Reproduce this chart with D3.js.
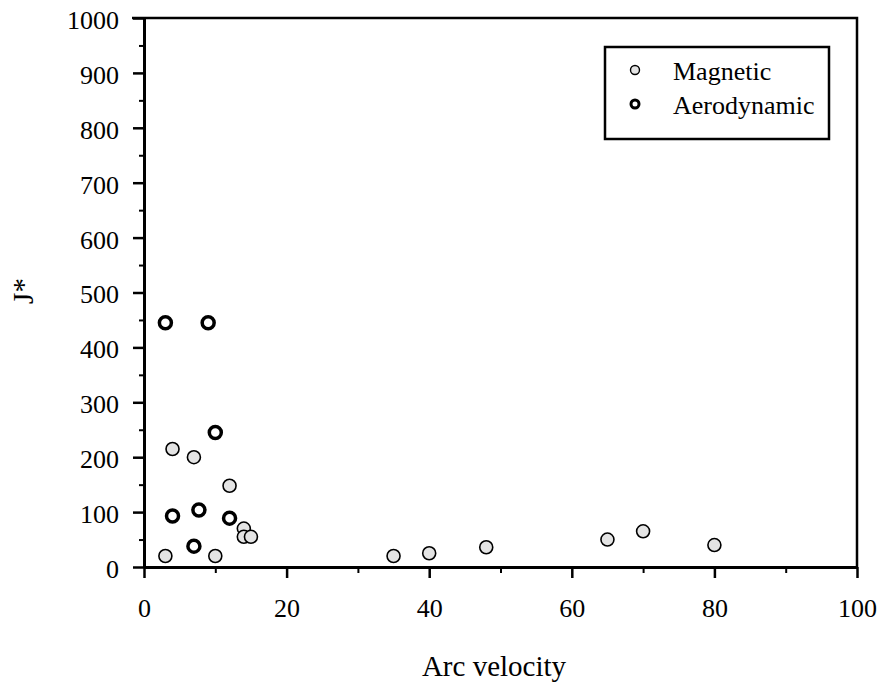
<!DOCTYPE html>
<html>
<head>
<meta charset="utf-8">
<script src="https://cdn.jsdelivr.net/npm/d3@7"></script>
<style>
  body { margin: 0; background: #fff; }
  text { font-family: "Liberation Serif", "Times New Roman", serif; fill: #000; }
</style>
</head>
<body>
<svg width="881" height="684"></svg>
<script>
// series values
const magX = [3, 4, 7, 12, 14, 14, 15, 10, 35, 40, 48, 65, 70, 80];
const magY = [20, 215, 200, 148, 70, 55, 55, 20, 20, 25, 36, 50, 65, 40];
const aeroX = [3, 9, 10, 4, 7.7, 12, 7];
const aeroY = [445, 445, 245, 93, 104, 89, 38];

const xTicks = [0, 20, 40, 60, 80, 100];
const yTicks = [0, 100, 200, 300, 400, 500, 600, 700, 800, 900, 1000];
const seriesNames = ["Magnetic", "Aerodynamic"];

const svg = d3.select("svg");
const mLeft = 144, mRight = 857, mTop = 18, mBottom = 567;

const x = d3.scaleLinear().domain([0, 100]).range([mLeft, mRight]);
const y = d3.scaleLinear().domain([0, 1000]).range([mBottom, mTop]);

// frame (top and right)
svg.append("path")
  .attr("d", `M${mLeft - 12},${mTop}H${mRight}V${mBottom}`)
  .attr("fill", "none").attr("stroke", "#000").attr("stroke-width", 2.5);

// minor ticks
const xAxisMinor = d3.axisBottom(x).tickValues(d3.range(10, 100, 20)).tickSize(6).tickFormat("");
svg.append("g").attr("transform", `translate(0,${mBottom})`).call(xAxisMinor)
  .call(g => g.select(".domain").remove())
  .selectAll("line").attr("stroke-width", 2);
const yAxisMinor = d3.axisLeft(y).tickValues(d3.range(50, 1000, 100)).tickSize(5).tickFormat("");
svg.append("g").attr("transform", `translate(${mLeft},0)`).call(yAxisMinor)
  .call(g => g.select(".domain").remove())
  .selectAll("line").attr("stroke-width", 2);

// x axis
const xAxis = svg.append("g").attr("transform", `translate(0,${mBottom})`)
  .call(d3.axisBottom(x).tickValues(xTicks).tickSize(11).tickSizeOuter(0)
    .tickPadding(21).tickFormat(d3.format("d")));
xAxis.select(".domain").attr("stroke-width", 3);
xAxis.selectAll("line").attr("stroke-width", 2.5);
xAxis.selectAll("text").attr("font-size", 26).attr("font-family", "Liberation Serif");

// y axis
const yAxis = svg.append("g").attr("transform", `translate(${mLeft},0)`)
  .call(d3.axisLeft(y).tickValues(yTicks).tickSize(11).tickSizeOuter(0)
    .tickPadding(14).tickFormat(d3.format("d")));
yAxis.select(".domain").attr("stroke-width", 3);
yAxis.selectAll("line").attr("stroke-width", 2.5);
yAxis.selectAll("text").attr("font-size", 26).attr("font-family", "Liberation Serif")
  .attr("dy", "0.4em");

// axis titles
svg.append("text").attr("x", 494).attr("y", 676)
  .attr("text-anchor", "middle").attr("font-size", 29).text("Arc velocity");
svg.append("text").attr("transform", `translate(33,291) rotate(-90)`)
  .attr("text-anchor", "middle").attr("font-size", 29).text("J*");

// points
const magData = magX.map((v, i) => [v, magY[i]]);
const aeroData = aeroX.map((v, i) => [v, aeroY[i]]);

svg.append("g").selectAll("circle").data(magData).join("circle")
  .attr("cx", d => x(d[0])).attr("cy", d => y(d[1])).attr("r", 6.5)
  .attr("fill", "#e4e4e4").attr("stroke", "#000").attr("stroke-width", 1.6);

svg.append("g").selectAll("circle").data(aeroData).join("circle")
  .attr("cx", d => x(d[0])).attr("cy", d => y(d[1])).attr("r", 6)
  .attr("fill", "#fff").attr("stroke", "#000").attr("stroke-width", 3.5);

// legend
const lg = svg.append("g");
lg.append("rect").attr("x", 605).attr("y", 47).attr("width", 224).attr("height", 92)
  .attr("fill", "#fff").attr("stroke", "#000").attr("stroke-width", 2.5);
seriesNames.forEach((name, i) => {
  const cy = 70 + i * 34;
  if (i === 0) {
    lg.append("circle").attr("cx", 635).attr("cy", cy).attr("r", 4.5)
      .attr("fill", "#e4e4e4").attr("stroke", "#000").attr("stroke-width", 1.4);
  } else {
    lg.append("circle").attr("cx", 635).attr("cy", cy).attr("r", 4)
      .attr("fill", "#fff").attr("stroke", "#000").attr("stroke-width", 3);
  }
  lg.append("text").attr("x", 673).attr("y", cy + 10).attr("font-size", 26).text(name);
});
</script>
</body>
</html>
